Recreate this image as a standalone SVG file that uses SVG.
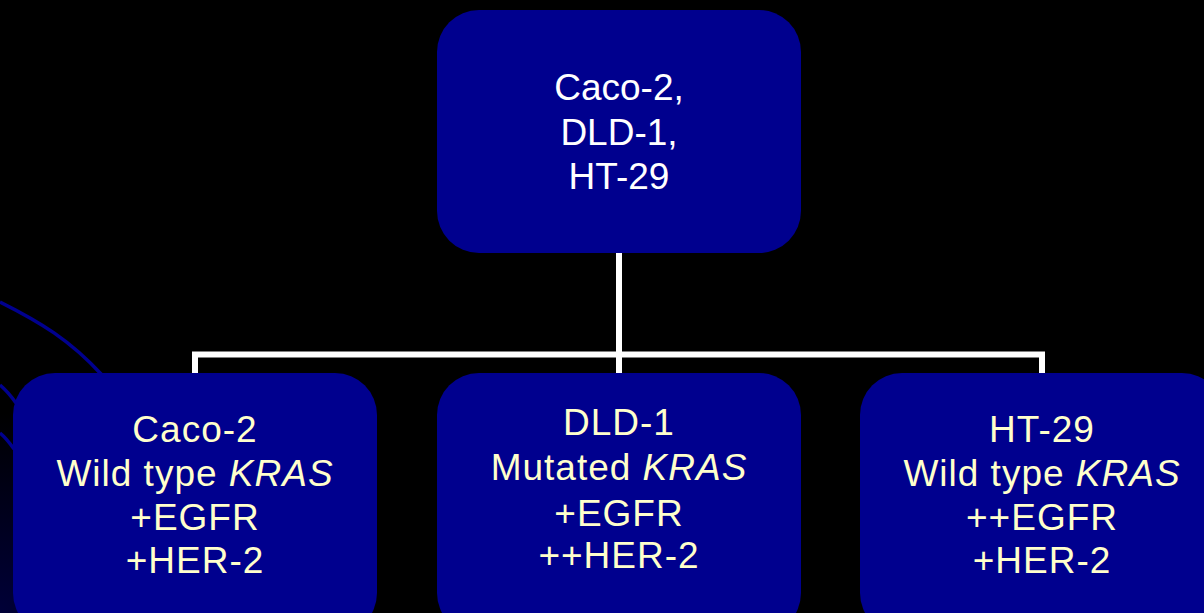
<svg xmlns="http://www.w3.org/2000/svg" width="1204" height="613" viewBox="0 0 1204 613">
<defs>
<radialGradient id="bg" cx="0" cy="613" r="200" gradientUnits="userSpaceOnUse">
<stop offset="0" stop-color="#000038"/>
<stop offset="1" stop-color="#000000"/>
</radialGradient>
<style>
.box{fill:#00008e;}
.t{font-family:"Liberation Sans",Arial,sans-serif;font-size:37px;text-anchor:middle;}
.w{fill:#ffffff;}
.y{fill:#ffffcc;letter-spacing:1px;}
.conn{stroke:#ffffff;stroke-width:6;fill:none;}
.deco{stroke:#00008e;stroke-width:3.5;fill:none;}
</style>
</defs>
<rect x="0" y="0" width="1204" height="613" fill="url(#bg)"/>
<g id="decor">
<path class="deco" d="M0,302 C40,322 70,340 102,375"/>
<path class="deco" d="M0,385 C6,390 11,396 16,403"/>
<path class="deco" d="M0,433 C5,437 9,442 14,449"/>
</g>
<g id="connectors">
<path class="conn" d="M619,252 V373"/>
<path class="conn" d="M195,373 V354.5 H1042 V373"/>
</g>
<g id="top">
<rect class="box" x="437" y="10" width="364" height="243" rx="42"/>
<text class="t w" x="619" y="100">Caco-2,</text>
<text class="t w" x="619" y="145">DLD-1,</text>
<text class="t w" x="619" y="189"> HT-29</text>
</g>
<g id="caco2">
<rect class="box" x="13" y="373" width="364" height="262" rx="42"/>
<text class="t y" x="195" y="442">Caco-2</text>
<text class="t y" x="195" y="486">Wild type <tspan font-style="italic">KRAS</tspan></text>
<text class="t y" x="195" y="530">+EGFR</text>
<text class="t y" x="195" y="573">+HER-2</text>
</g>
<g id="dld1">
<rect class="box" x="437" y="373" width="364" height="262" rx="42"/>
<text class="t y" x="619" y="435">DLD-1</text>
<text class="t y" x="619" y="480">Mutated <tspan font-style="italic">KRAS</tspan></text>
<text class="t y" x="619" y="526">+EGFR</text>
<text class="t y" x="619" y="568">++HER-2</text>
</g>
<g id="ht29">
<rect class="box" x="860" y="373" width="364" height="262" rx="42"/>
<text class="t y" x="1042" y="442">HT-29</text>
<text class="t y" x="1042" y="486">Wild type <tspan font-style="italic">KRAS</tspan></text>
<text class="t y" x="1042" y="530">++EGFR</text>
<text class="t y" x="1042" y="573">+HER-2</text>
</g>
</svg>
